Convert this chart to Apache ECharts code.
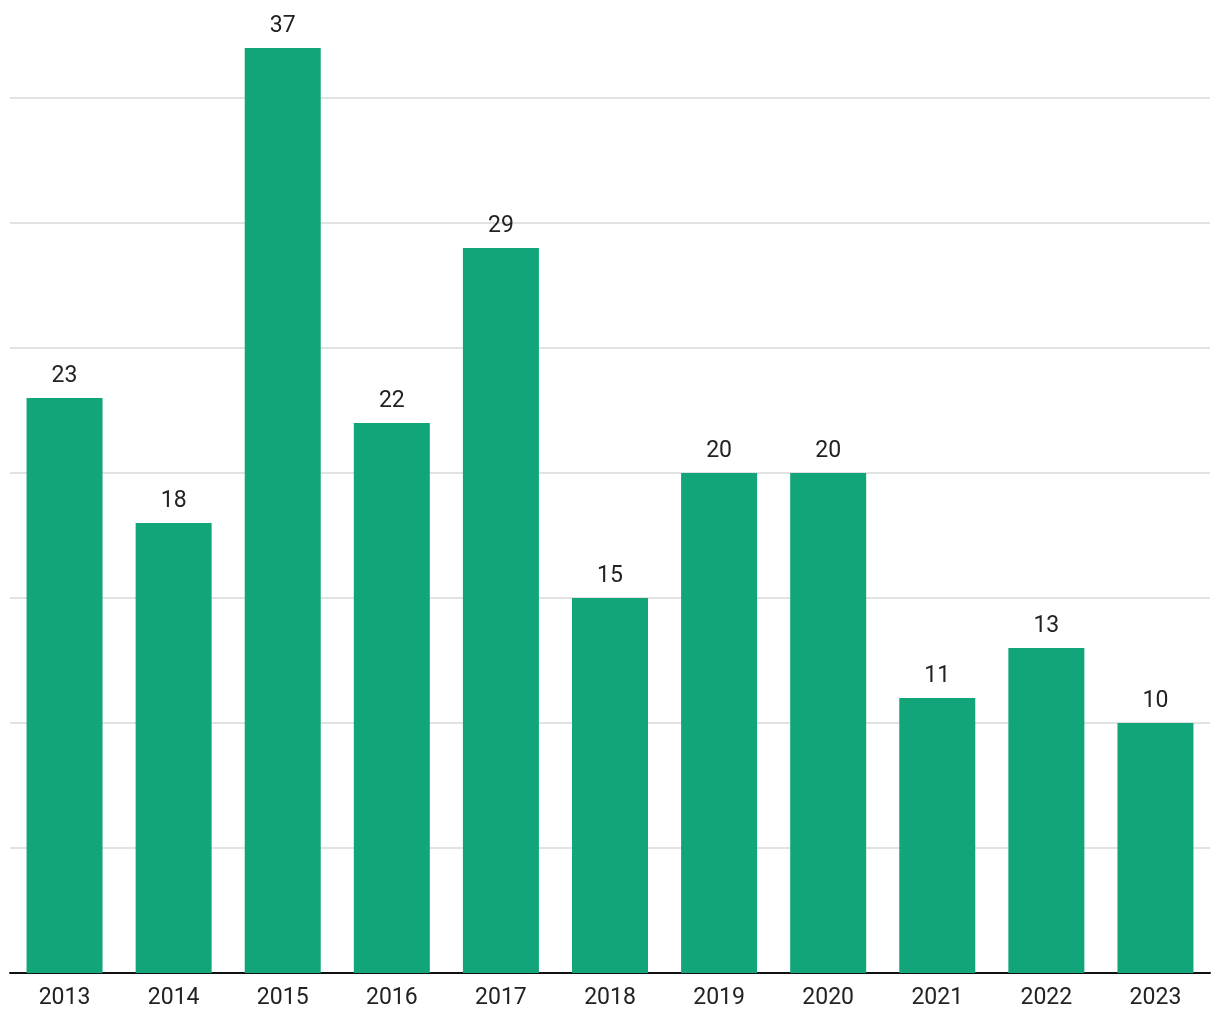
<!DOCTYPE html>
<html><head><meta charset="utf-8">
<script src="https://cdn.jsdelivr.net/npm/echarts@6/dist/echarts.min.js"></script>
<style>html,body{margin:0;padding:0;background:#fff}#c{width:1220px;height:1020px}</style>
</head><body><div id="c"></div>
<script>
const categories = ['2013','2014','2015','2016','2017','2018','2019','2020','2021','2022','2023'];
const values = [23, 18, 37, 22, 29, 15, 20, 20, 11, 13, 10];

const chart = echarts.init(document.getElementById('c'), null, {renderer: 'canvas'});
chart.setOption({
  animation: false,
  backgroundColor: '#fff',
  grid: {left: 10, right: 10, top: 48, bottom: 47, containLabel: false},
  xAxis: {
    type: 'category', data: categories,
    axisLine: {show: true, lineStyle: {color: '#111', width: 2}},
    axisTick: {show: false},
    axisLabel: {color: '#222', fontFamily: 'Roboto', fontSize: 23, margin: 14}
  },
  yAxis: {
    type: 'value', min: 0, max: 37, interval: 5,
    axisLabel: {show: false}, axisLine: {show: false}, axisTick: {show: false},
    splitLine: {show: true, showMinLine: false, showMaxLine: false, lineStyle: {color: '#e2e2e2', width: 2}}
  },
  series: [{
    type: 'bar', data: values, barWidth: 76,
    itemStyle: {color: '#13a57a'},
    label: {show: true, position: 'top', distance: 10, color: '#222', fontFamily: 'Roboto', fontSize: 23}
  }]
});
</script></body></html>
